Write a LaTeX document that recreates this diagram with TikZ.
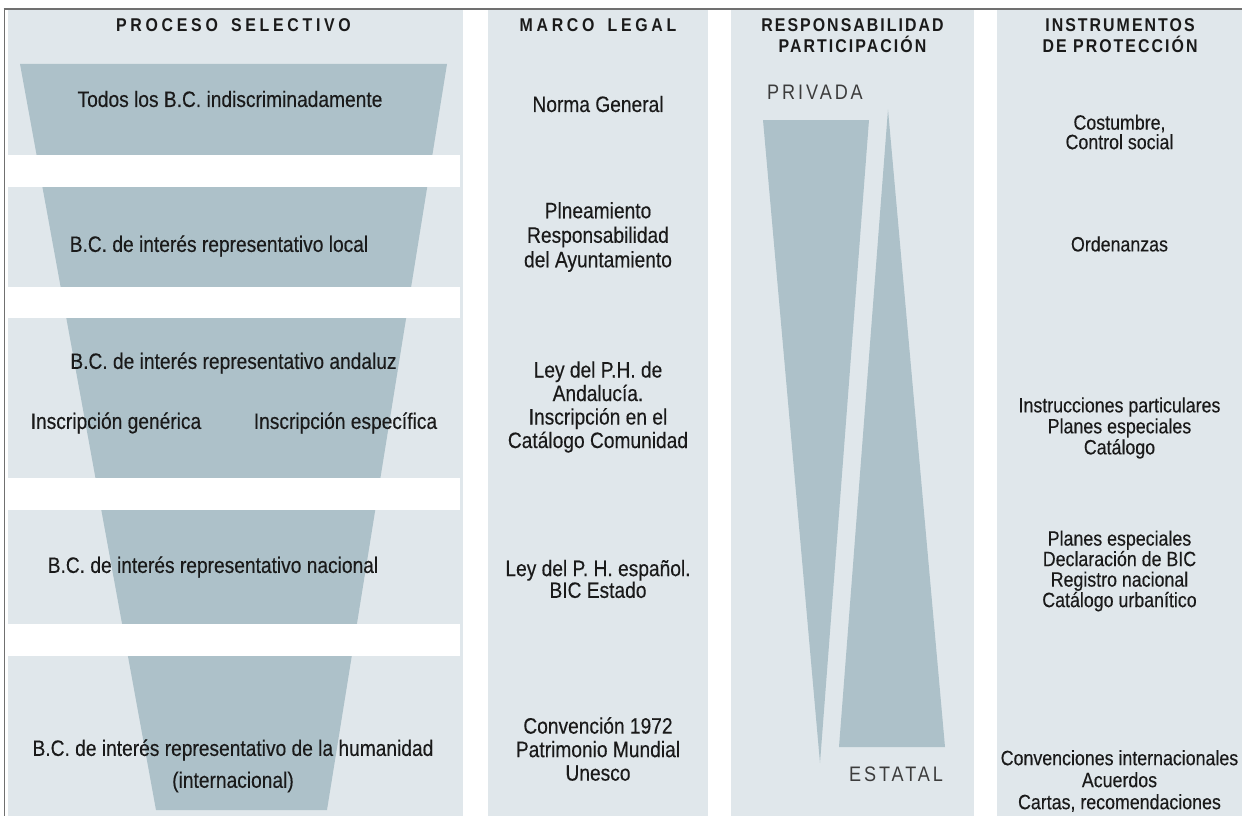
\documentclass[tikz,border=0pt]{standalone}
\usepackage{fontspec}
\setmainfont{Liberation Sans}[FakeStretch=0.86]
\newfontfamily\bodyf{Liberation Sans}[FakeStretch=0.86,FakeBold=0.3]
\newfontfamily\hdwide{Liberation Sans}[FakeStretch=0.86,LetterSpace=20]
\newfontfamily\hdnarrow{Liberation Sans}[FakeStretch=0.86,LetterSpace=11]
\newfontfamily\lblspaced{Liberation Sans}[FakeStretch=0.86,LetterSpace=14]
\definecolor{bgc}{HTML}{E0E7EB}
\definecolor{fun}{HTML}{ADC1C9}
\definecolor{ink}{HTML}{1A1A1A}
\definecolor{rulec}{HTML}{707070}
\begin{document}
\begin{tikzpicture}[x=1pt,y=-1pt,
  colbg/.style={fill=bgc},
  funnel/.style={fill=fun},
  band/.style={fill=white},
  rul/.style={draw=rulec,line width=1.6pt},
  head/.style={font=\hdwide\bfseries\fontsize{18.5}{21}\selectfont,text=ink,align=center,inner sep=0pt},
  headn/.style={font=\hdnarrow\bfseries\fontsize{18.5}{21}\selectfont,text=ink,align=center,inner sep=0pt},
  spacedlbl/.style={font=\lblspaced\fontsize{21}{24}\selectfont,text=ink!85,inner sep=0pt},
  body/.style={font=\bodyf\fontsize{22.3}{24.5}\selectfont,text=ink,align=center,inner sep=0pt},
  bodyr/.style={font=\bodyf\fontsize{20.7}{23}\selectfont,text=ink,align=center,inner sep=0pt}]
\useasboundingbox (0,0) rectangle (1242,816);
% column backgrounds
\fill[colbg] (8,10) rectangle (463,816);
\fill[colbg] (488,10) rectangle (708,816);
\fill[colbg] (731,10) rectangle (974,816);
\fill[colbg] (997,10) rectangle (1242,816);
% funnel and white bands
\fill[funnel] (20,64) -- (447,64) -- (327,810) -- (156,810) -- cycle;
\foreach \a/\b in {155/187,287/318,478/510,624/656}
  \fill[band] (7,\a) rectangle (460,\b);
% frame rules
\draw[rul] (3.7,9.3) -- (1242,9.3);
\draw[rul] (4.5,9.3) -- (4.5,816);
% responsibility wedges
\fill[funnel] (763,120) -- (869,120) -- (820,763) -- cycle;
\fill[funnel] (888,109.5) -- (945,747) -- (839,747) -- cycle;
% headers
\node[head] (h1) at (233.5,25) {PROCESO\hspace{5pt} SELECTIVO};
\node[head] (h2) at (598,25) {MARCO\hspace{5pt} LEGAL};
\node[headn] (h3) at (852.5,35.5) {RESPONSABILIDAD\\PARTICIPACIÓN};
\node[headn] (h4) at (1120,35.5) {INSTRUMENTOS\\DE PROTECCIÓN};
% column 1
\node[body] (t1) at (230,99) {Todos los B.C. indiscriminadamente};
\node[body] (t2) at (219,246) {B.C. de interés representativo local};
\node[body] (t3) at (233.5,363) {B.C. de interés representativo andaluz};
\node[body] (t3a) at (116,423) {Inscripción genérica};
\node[body] (t3b) at (345.5,423) {Inscripción específica};
\node[body] (t4) at (213,567) {B.C. de interés representativo nacional};
\node[body] (t5) at (233,750) {B.C. de interés representativo de la humanidad};
\node[body] (t5b) at (233,782) {(internacional)};
% column 2
\node[body] (m1) at (598,104) {Norma General};
\node[body] (m2) at (598,237) {Plneamiento\\Responsabilidad\\del Ayuntamiento};
\node[body,font=\bodyf\fontsize{22.3}{23.5}\selectfont] (m3) at (598,407) {Ley del P.H. de\\Andalucía.\\Inscripción en el\\Catálogo Comunidad};
\node[body,font=\bodyf\fontsize{22.3}{19}\selectfont] (m4) at (598,579) {Ley del P. H. español.\\BIC Estado};
\node[body,font=\bodyf\fontsize{22.3}{23.5}\selectfont] (m5) at (598,749) {Convención 1972\\Patrimonio Mundial\\Unesco};
% column 3
\node[spacedlbl] (p1) at (815,92) {PRIVADA};
\node[spacedlbl] (p2) at (896,774) {ESTATAL};
% column 4
\node[bodyr,font=\bodyf\fontsize{20.7}{19.5}\selectfont] (i1) at (1119.5,132) {Costumbre,\\Control social};
\node[bodyr] (i2) at (1119.5,244) {Ordenanzas};
\node[bodyr,font=\bodyf\fontsize{20.7}{21}\selectfont] (i3) at (1119.5,428) {Instrucciones particulares\\Planes especiales\\Catálogo};
\node[bodyr,font=\bodyf\fontsize{20.7}{20.5}\selectfont] (i4) at (1119.5,571) {Planes especiales\\Declaración de BIC\\Registro nacional\\Catálogo urbanítico};
\node[bodyr,font=\bodyf\fontsize{20.7}{22}\selectfont] (i5) at (1119.5,781) {Convenciones internacionales\\Acuerdos\\Cartas, recomendaciones};
\end{tikzpicture}
\end{document}
